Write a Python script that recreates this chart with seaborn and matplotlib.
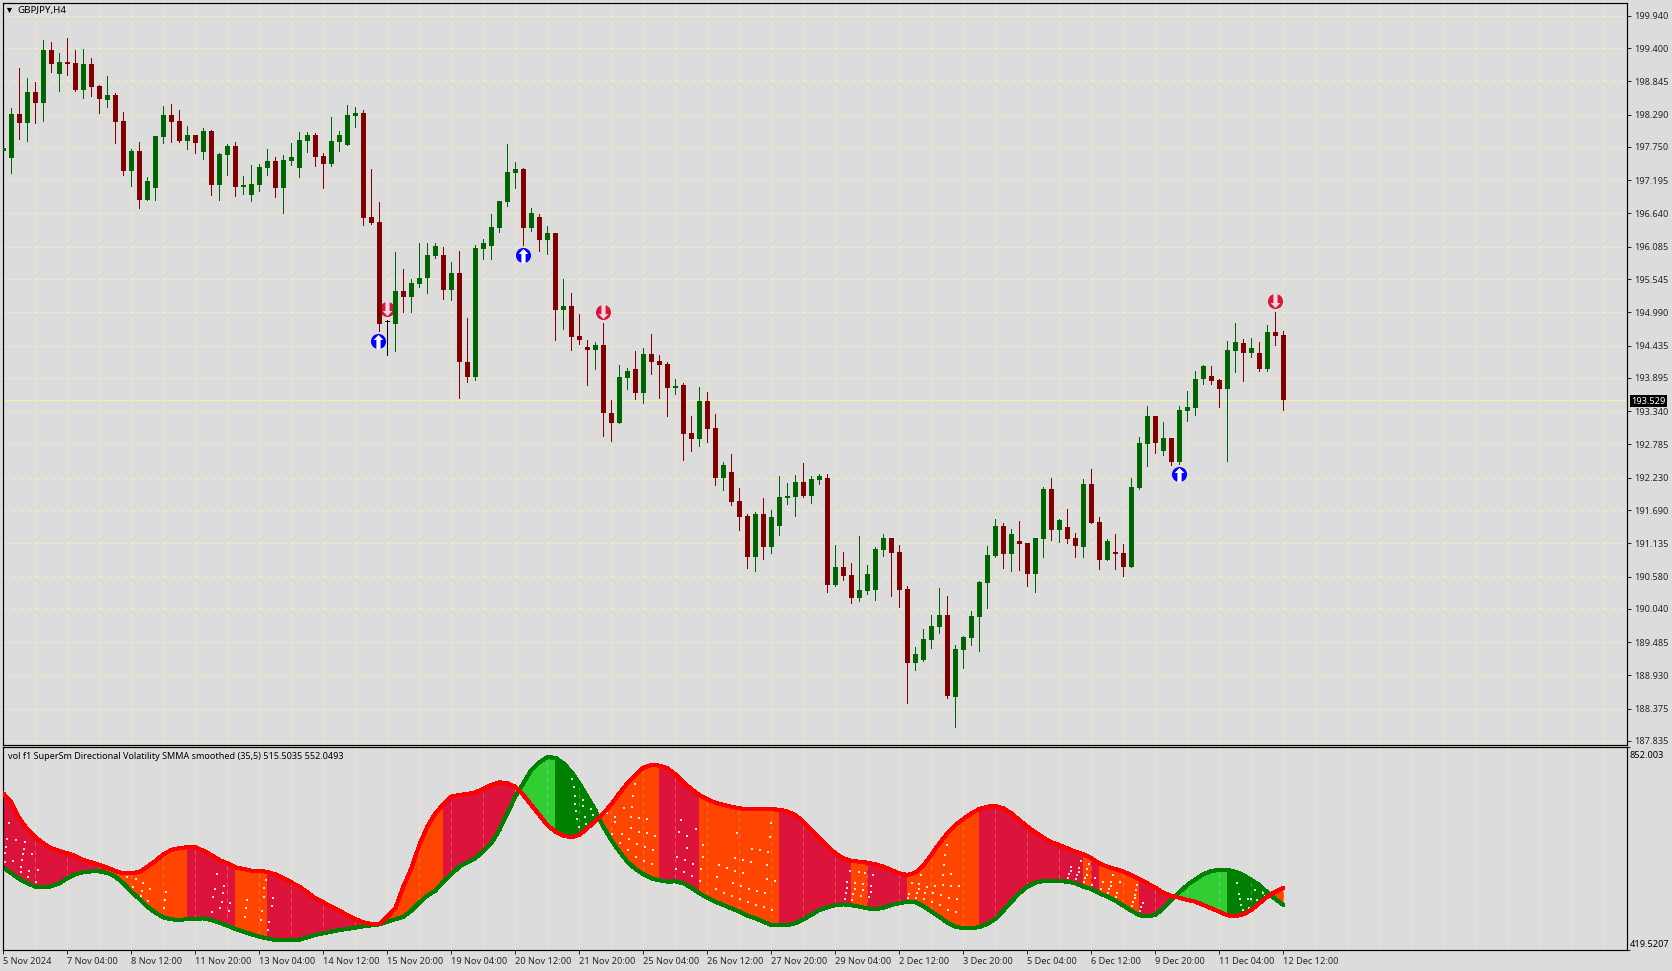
import numpy as np
import pandas as pd
import matplotlib as mpl
mpl.use("Agg")
import matplotlib.pyplot as plt
from matplotlib.patches import Rectangle
import seaborn as sns

# GBPJPY H4 candles
opens = [197.687,197.565,198.299,198.149,198.667,198.483,199.368,198.967,199.167,199.151,
         198.700,199.134,198.767,198.533,198.617,198.183,197.348,197.682,196.864,197.064,
         197.916,198.283,198.183,197.849,197.949,197.665,198.016,197.115,197.615,197.765,
         197.081,196.948,197.115,197.398,197.515,197.064,197.515,197.398,197.849,197.949,
         197.599,197.465,197.832,197.782,198.266,198.316,196.580,196.497,194.828,194.795,
         195.345,195.245,195.462,195.562,195.930,195.946,195.362,195.646,194.160,193.910,
         196.046,196.096,196.397,196.831,197.315,197.381,196.397,196.580,196.197,196.313,
         195.028,195.095,194.594,194.411,194.361,194.444,193.309,193.142,193.893,194.044,
         193.643,194.294,194.177,194.127,193.727,193.776,192.975,192.875,193.509,193.058,
         192.224,192.324,191.840,191.590,190.906,191.623,191.072,191.423,191.890,191.907,
         192.157,191.924,192.191,192.224,190.438,190.739,190.605,190.221,190.338,190.355,
         191.022,191.223,190.989,190.372,189.137,189.187,189.520,189.737,189.938,188.569,
         189.354,189.554,189.904,190.472,190.922,191.423,190.956,191.173,191.139,190.622,
         191.206,192.040,191.356,191.407,191.223,191.073,192.124,191.490,190.856,190.990,
         190.973,190.739,192.058,192.792,193.259,192.675,192.892,192.492,193.343,193.393,
         193.877,193.927,193.860,193.710,194.344,194.478,194.311,194.311,194.044,194.661,
         194.611]
closes = [197.732,198.299,198.149,198.667,198.483,199.368,199.134,199.167,199.134,198.700,
          199.134,198.750,198.550,198.617,198.166,197.348,197.682,196.864,197.181,197.932,
          198.283,198.166,197.849,197.949,197.815,198.016,197.115,197.632,197.765,197.081,
          197.115,197.131,197.415,197.515,197.064,197.532,197.582,197.866,197.949,197.582,
          197.465,197.849,197.949,198.283,198.316,196.564,196.480,194.795,194.828,195.345,
          195.245,195.479,195.562,195.946,196.096,195.362,195.646,194.160,193.910,196.063,
          196.146,196.413,196.847,197.331,197.381,196.397,196.647,196.197,196.313,195.028,
          195.095,194.578,194.528,194.361,194.444,193.309,193.142,193.910,194.010,193.643,
          194.294,194.160,194.110,193.727,193.760,192.958,192.875,193.509,193.042,192.224,
          192.441,191.823,191.573,190.906,191.623,191.072,191.573,191.907,191.924,192.157,
          191.924,192.207,192.257,190.438,190.739,190.589,190.221,190.355,190.622,191.039,
          191.223,190.972,190.355,189.137,189.287,189.537,189.754,189.938,188.586,189.370,
          189.570,189.921,190.488,190.939,191.423,190.956,191.289,191.123,190.622,191.223,
          192.040,191.356,191.523,191.207,191.090,192.124,191.474,190.856,191.173,190.956,
          190.739,192.074,192.809,193.259,192.809,192.892,192.492,193.359,193.409,193.877,
          194.094,193.843,193.710,194.361,194.494,194.311,194.394,194.044,194.661,194.594,
          193.529]
highs = [197.765,198.400,199.067,198.900,198.833,199.534,199.501,199.317,199.568,199.368,
         199.384,199.234,198.783,198.934,198.650,198.333,197.715,197.832,197.248,197.932,
         198.433,198.466,198.366,198.099,197.949,198.066,198.032,197.649,197.799,197.832,
         197.265,197.448,197.465,197.715,197.582,197.615,197.815,197.999,197.999,197.982,
         197.649,198.249,198.016,198.450,198.416,198.366,197.382,196.831,194.861,195.996,
         195.713,195.546,196.146,196.146,196.146,196.080,195.829,196.013,194.895,196.113,
         196.213,196.630,196.847,197.799,197.498,197.398,196.731,196.630,196.430,196.313,
         195.546,195.312,194.962,194.528,194.494,194.811,193.526,194.110,194.060,194.344,
         194.394,194.628,194.277,194.160,193.877,193.809,193.259,193.743,193.659,193.292,
         192.491,192.625,192.057,191.623,191.657,191.890,191.690,192.257,192.141,192.274,
         192.474,192.257,192.291,192.291,191.106,190.989,190.805,191.256,190.772,191.072,
         191.289,191.223,191.106,190.422,189.404,189.704,189.938,190.388,190.255,189.437,
         189.587,190.004,190.505,191.089,191.540,191.473,191.373,191.506,191.139,191.223,
         192.074,192.224,191.540,191.707,191.307,192.208,192.375,191.574,191.207,191.290,
         191.123,192.225,192.909,193.426,193.259,193.159,192.892,193.426,193.677,194.010,
         194.110,194.094,193.877,194.511,194.811,194.544,194.561,194.494,194.778,194.995,
         194.678]
lows = [197.098,197.315,197.882,197.849,198.149,198.183,199.000,198.683,198.950,198.683,
        198.566,198.600,198.316,198.416,197.815,197.281,197.098,196.731,196.864,196.864,
        197.815,197.832,197.832,197.715,197.649,197.548,196.948,196.864,197.281,196.931,
        196.964,196.848,197.014,197.281,196.914,196.647,197.448,197.248,197.665,197.432,
        197.064,197.432,197.682,197.782,198.082,196.447,196.464,194.678,194.277,194.344,
        194.995,194.995,195.412,195.312,195.896,195.212,195.195,193.560,193.827,193.860,
        195.879,195.879,196.330,196.764,197.064,196.113,196.347,196.013,195.963,194.528,
        194.711,194.361,194.461,193.777,194.044,192.925,192.842,193.142,193.710,193.543,
        193.476,193.960,193.560,193.259,193.626,192.524,192.675,192.758,192.825,192.107,
        192.024,191.773,191.356,190.722,190.672,190.872,190.972,191.273,191.790,191.590,
        191.907,191.807,192.124,190.321,190.422,190.522,190.138,190.171,190.288,190.188,
        190.922,190.255,190.071,188.469,189.020,189.170,189.387,189.637,188.552,188.068,
        189.053,189.437,189.337,190.054,190.906,190.722,190.672,190.689,190.422,190.321,
        190.906,191.189,191.156,191.140,190.906,190.906,191.474,190.706,190.856,190.706,
        190.589,190.739,192.041,192.425,192.642,192.608,192.442,192.458,193.176,193.276,
        193.793,193.793,193.409,192.508,193.994,193.843,194.244,194.010,194.010,194.444,
        193.359]

# indicator lines, one reading per bar
vol_red = [753.3,734.1,700.1,677.3,659.6,646.8,636.1,630.5,625.5,619.8,
           611.3,606.3,600.6,594.9,587.8,582.9,582.9,585.7,597.1,609.2,
           623.4,632.6,636.8,638.3,638.3,631.2,621.9,611.3,604.2,595.7,
           592.1,588.6,588.6,585.7,580.7,572.2,563.7,554.5,542.4,529.6,
           521.1,511.9,503.3,494.1,485.6,478.5,474.9,474.2,490.5,508.3,
           554.5,593.5,643.2,682.3,710.7,729.9,746.2,749.8,751.9,755.5,
           762.6,771.1,776.8,774.6,767.5,749.8,728.5,707.2,685.9,671.6,
           663.1,659.6,664.5,678.7,694.4,710.7,729.9,753.3,774.6,792.4,
           808.0,813.7,812.3,806.6,793.8,776.8,762.6,749.8,740.5,733.4,
           728.5,724.9,721.4,719.2,719.2,719.2,719.2,718.5,714.3,707.2,
           693.0,675.2,657.4,641.1,625.5,614.8,609.2,607.7,605.6,602.0,
           597.1,590.0,582.9,579.3,584.3,599.2,621.9,646.8,668.1,685.9,
           698.6,710.7,719.9,724.9,726.3,721.4,710.7,696.5,682.3,670.2,
           658.9,648.9,643.2,636.1,629.0,623.4,614.8,604.2,597.1,592.1,
           586.4,579.3,570.8,561.6,552.3,541.7,534.6,531.0,526.1,522.5,
           515.4,508.3,501.2,493.4,491.3,495.5,504.8,519.0,533.2,543.8,
           552.0493]
vol_green = [594.9,582.9,570.8,561.6,554.5,553.0,555.2,561.6,572.2,580.7,
             585.0,587.1,587.1,583.6,575.8,561.6,543.8,528.2,511.9,499.1,
             489.1,484.9,483.4,485.6,485.6,487.0,483.4,477.8,471.4,464.3,
             458.6,452.9,447.9,444.4,440.8,440.1,440.1,441.5,446.5,451.5,
             455.0,458.6,462.1,464.3,467.1,470.0,472.1,474.2,479.9,484.9,
             490.5,503.3,520.4,535.3,545.9,565.1,580.7,597.1,606.3,614.8,
             630.5,646.8,675.2,710.7,746.2,774.6,803.0,819.4,830.0,829.3,
             817.2,799.5,774.6,746.2,717.8,682.3,653.9,629.0,607.7,592.1,
             580.7,572.2,568.0,565.1,565.8,561.6,552.3,540.3,531.0,522.5,
             515.4,508.3,501.2,492.7,487.0,479.9,472.8,472.1,472.1,476.3,
             484.9,494.1,504.8,510.4,514.7,516.8,514.7,511.9,508.3,506.2,
             509.7,515.4,519.0,522.5,521.1,513.3,501.2,490.5,477.8,469.2,
             465.7,465.7,468.5,474.9,485.6,503.3,522.5,540.3,554.5,563.0,
             566.5,566.5,566.5,565.1,561.6,554.5,549.5,540.3,533.2,524.6,
             514.0,503.3,493.4,491.3,494.1,508.3,526.1,542.4,558.0,570.1,
             580.7,587.8,590.0,590.0,586.4,579.3,568.7,558.0,542.4,528.2,
             515.5035]

# white dots scattered inside the band
dot_bars = [.75,.42,1.58,2.71,.33,2.58,.25,2.5,3.63,1.25,2.29,.17,2.21,3.25,4.38,2.17,3.13,4.08,
            15.42,16.58,14.67,17.5,16.25,17.33,18.33,17.17,20.33,18.13,20.25,20.08,
            26.75,27.58,26.46,27.5,26.25,27.29,28.33,26.08,27.08,28.25,
            30.5,30.33,30.21,32.58,32.83,32.58,32.33,32.17,33.75,33.58,33.25,33.13,
            71.1,71.3,71.4,71.5,72.4,72.5,71.6,73.5,71.7,72.7,71.9,72.8,73.75,
            78.9,78.75,78.6,77.6,78.5,76.5,75.5,79.5,80.5,76.4,78.4,79.4,80.4,77.3,81.4,76.1,78.25,77.1,79.25,
            80.25,78.1,81.25,79.1,80.1,81.1,
            84.7,84.5,85.5,86.6,85.4,84.25,85.25,86.25,84.1,85.1,86.1,
            87.5,87.4,87.25,87.1,89.4,90.4,89.25,91.4,92.4,91.5,92.5,93.5,93.6,94.6,95.6,95.5,91.75,95.8,95.9,
            91.25,92.25,95.4,96.4,89.1,90.1,91.1,92.1,93.1,94.1,95.1,96.1,93.25,94.25,95.25,
            105.8,105.5,105.4,105.3,105.2,106.9,106.5,106.4,106.25,106.1,
            107.75,107.5,107.4,107.25,108.75,108.5,108.4,108.25,
            117.9,117.75,117.6,117.5,118.5,117.4,118.4,119.4,114.75,113.6,114.5,115.4,116.4,
            114.4,114.25,113.25,115.25,116.25,117.25,113.1,114.1,115.1,116.1,118.25,119.25,117.1,118.1,119.1,
            133.5,133.4,133.25,133.1,134.5,134.4,134.25,134.1,134.75,135.75,135.5,135.4,135.25,135.1,136.4,136.1,
            137.4,137.25,138.75,138.5,138.4,138.25,138.1,139.6,139.25,139.1,
            141.9,141.75,141.6,141.5,141.4,141.25,141.1,142.4,142.25,142.1,
            154.25,154.5,154.6,154.75,154.9,155.6,155.75,156.4,156,156.75,157,157.4,157.75,157.5]
dot_values = [689.4,656.0,653.9,650.3,639.7,634.7,625.5,623.3,623.3,609.8,611.3,607.7,597.1,587.8,589.2,585.0,574.3,565.1,
              575.8,570.1,582.9,561.6,554.5,545.2,548.8,535.3,543.8,524.6,526.0,508.3,
              580.7,556.6,548.8,541.7,531.7,522.5,518.9,499.7,509.7,503.3,
              526.0,508.3,490.5,533.1,568.6,552.3,503.3,484.1,531.0,512.5,479.9,462.1,
              783.1,766.1,748.3,731.3,738.4,725.6,715.0,719.2,697.9,702.2,681.6,688.6,707.1,
              772.5,748.3,724.9,721.4,702.2,703.6,710.7,700.0,697.9,691.5,678.7,671.6,668.1,665.9,661.7,665.9,655.3,646.8,644.6,
              638.2,631.8,631.8,616.9,608.4,602.0,
              695.8,670.2,661.7,676.6,636.1,616.9,610.5,602.0,591.4,585.0,576.5,
              642.5,616.9,591.4,565.8,599.9,593.5,574.3,587.1,582.8,614.8,610.5,606.3,634.0,631.8,629.0,599.9,668.1,659.5,689.4,
              561.5,555.1,570.1,565.8,548.7,540.2,533.8,527.4,521.0,514.7,510.4,504.0,548.7,544.5,540.2,
              587.1,563.7,550.9,540.2,527.4,585.0,561.5,548.7,538.1,525.3,
              582.8,559.4,546.6,535.6,578.6,555.1,542.4,531.7,
              642.5,621.2,599.9,578.6,580.7,557.3,555.1,555.1,578.6,561.5,559.4,553.0,555.1,
              548.7,540.2,538.1,540.2,540.2,536.0,529.6,529.6,527.4,521.0,529.6,527.4,514.7,504.0,499.8,
              597.1,587.8,580.7,572.2,594.9,585.7,578.6,570.1,608.4,602.0,591.4,578.6,572.2,563.7,572.2,557.3,
              563.7,548.7,578.6,563.7,555.1,548.7,540.2,563.7,540.2,531.7,
              570.1,557.3,546.6,536.0,529.6,521.1,512.5,518.9,510.4,501.9,
              561.5,538.1,527.4,514.7,504.0,527.4,508.3,546.6,527.4,525.3,518.9,544.5,533.8,540.2]

# colour bands of the indicator: start/end bar and state
band_starts = [0,13,23,29,33,47.1,55,64,69,74.2,82,87,97,106,108,113,122,135,136,137,142,146.5,153,157.8,158.6]
band_ends = [13,23,29,33,47.1,55,64,69,74.2,82,87,97,106,108,113,122,135,136,137,142,146.5,153,157.8,158.6,160]
band_states = ["down","rise","down","rise","down","rise","down","up","upfade","rise","down","rise","down",
               "rise","down","rise","down","rise","down","rise","down","up","upfade","down","rise"]

# signal arrows (bar, price)
up_bars = [46.8, 64.9, 146.9]
up_prices = [194.51, 195.94, 192.286]
down_bars = [47.96, 74.9, 158.9]
down_prices = [195.045, 195.0, 195.18]

price_ticks = [199.940,199.400,198.845,198.290,197.750,197.195,196.640,196.085,195.545,194.990,194.435,193.895,
               193.340,192.785,192.230,191.690,191.135,190.580,190.040,189.485,188.930,188.375,187.835]
time_labels = ["5 Nov 2024","7 Nov 04:00","8 Nov 12:00","11 Nov 20:00","13 Nov 04:00","14 Nov 12:00","15 Nov 20:00",
               "19 Nov 04:00","20 Nov 12:00","21 Nov 20:00","25 Nov 04:00","26 Nov 12:00","27 Nov 20:00","29 Nov 04:00",
               "2 Dec 12:00","3 Dec 20:00","5 Dec 04:00","6 Dec 12:00","9 Dec 20:00","11 Dec 04:00","12 Dec 12:00"]
last_price = 193.529
vol_min, vol_max = 419.5207, 852.003

BG = "#DCDCDC"
GRID = "#F3EEB4"
BULL = "#006400"
BEAR = "#800000"
BAND_COLORS = {"down": "#DC143C", "rise": "#FF4500", "up": "#32CD32", "upfade": "#008000"}
W, H = 1672, 971
PX = 0.72  # one pixel in points at dpi 100

sns.set_theme(style="ticks", rc={"axes.facecolor": BG, "figure.facecolor": BG, "savefig.facecolor": BG,
                                 "axes.edgecolor": "black", "axes.linewidth": 0.85, "text.color": "black"})
plt.rcParams["font.family"] = ["Noto Sans", "DejaVu Sans"]
plt.rcParams["font.size"] = 6.6


def pane(left, top, right, bottom):
    return fig.add_axes([left / W, 1 - bottom / H, (right - left) / W, (bottom - top) / H])


def pixel_xlim(ax):
    # bar 0 sits at pixel 3.33, one bar is 8 px
    ax.set_xlim((2.5 - 3.33) / 8, (1626.5 - 3.33) / 8)


def add_vgrid(ax):
    for b in range(4, 201, 4):
        ax.axvline(b, color=GRID, lw=PX, ls=(0, (4, 4)), zorder=0.5)


fig = plt.figure(figsize=(W / 100, H / 100), dpi=100)
ax = pane(2.5, 2.5, 1626.5, 745)
ax2 = pane(2.5, 747, 1626.5, 950)

# --- price pane ---
df = pd.DataFrame({"open": opens, "high": highs, "low": lows, "close": closes})
df["bar"] = df.index
df["color"] = np.where(df["close"] > df["open"], BULL, BEAR)
df.loc[df["close"] == df["open"], "color"] = "black"

pixel_xlim(ax)
ax.set_ylim(187.768, 200.160)
add_vgrid(ax)
for p in price_ticks:
    ax.axhline(p, color=GRID, lw=PX, ls=(0, (4, 4)), zorder=0.5)
ax.axhline(last_price, color=GRID, lw=1.0, zorder=0.6)

ax.scatter(up_bars, up_prices, s=118, color="#0000FF", linewidths=0, zorder=1)
ax.scatter(down_bars, down_prices, s=118, color="#DC143C", linewidths=0, zorder=1)
up_arrow = [(-0.27, -1), (0.27, -1), (0.27, 0.2), (0.62, 0.2), (0, 0.85), (-0.62, 0.2), (-0.27, 0.2)]
down_arrow = [(x, -y) for x, y in up_arrow]
ax.scatter(up_bars, up_prices, s=125, color="white", marker=up_arrow, linewidths=0, zorder=1.1)
ax.scatter(down_bars, down_prices, s=125, color="#F4D6DC", marker=down_arrow, linewidths=0, zorder=1.1)

ax.vlines(df["bar"], df["low"], df["high"], colors=df["color"], lw=PX, zorder=2, antialiased=False)
body_low = df[["open", "close"]].min(axis=1)
body_h = (df["close"] - df["open"]).abs().clip(lower=0.012)
ax.bar(df["bar"], body_h, bottom=body_low, width=5 / 8, color=df["color"], linewidth=0, zorder=3, antialiased=False)

ax.set_yticks(price_ticks)
ax.set_yticklabels([f"{p:.3f}" for p in price_ticks])
ax.yaxis.tick_right()
ax.tick_params(axis="y", length=3, width=PX, pad=2.2, labelsize=6.6)
ax.set_xticks([])

ax.annotate("GBPJPY,H4", xy=(0, 1), xycoords="axes fraction", xytext=(15 * PX, -7.5 * PX),
            textcoords="offset points", va="center", fontsize=7)
ax.scatter([0.004], [0.99], marker="v", s=14, color="black", linewidths=0, transform=ax.transAxes, zorder=5)
ax.annotate(f"{last_price:.3f}", xy=(1, last_price), xycoords=("axes fraction", "data"),
            xytext=(5 * PX, -1.5 * PX), textcoords="offset points", va="center", ha="left", color="white", fontsize=6.6,
            annotation_clip=False,
            bbox=dict(boxstyle="square,pad=0.18", facecolor="black", edgecolor="black", linewidth=0))

# --- indicator pane ---
vol = pd.DataFrame({"bar": np.arange(len(vol_red)), "red": vol_red, "green": vol_green})

pixel_xlim(ax2)
ax2.set_ylim(vol_min, vol_max)
add_vgrid(ax2)

for start, end, state in zip(band_starts, band_ends, band_states):
    poly = ax2.fill_between(vol["bar"], vol["red"], vol["green"], color=BAND_COLORS[state], linewidth=0, zorder=1)
    poly.set_clip_path(Rectangle((start, vol_min), end - start, vol_max - vol_min, transform=ax2.transData))

# the grid shows faintly through the filled area
for b in range(4, 161, 4):
    ax2.axvline(b, color=GRID, lw=PX, ls=(0, (4, 4)), alpha=0.3, zorder=1.5)

ax2.scatter(dot_bars, dot_values, s=0.55, marker="s", color="white", alpha=0.85, linewidths=0, zorder=1.6)

sns.lineplot(data=vol, x="bar", y="green", color="#008000", lw=2.2, ax=ax2, zorder=2, errorbar=None, antialiased=False)
sns.lineplot(data=vol, x="bar", y="red", color="#FF0000", lw=2.2, ax=ax2, zorder=3, errorbar=None, antialiased=False)
ax2.set_xlabel("")
ax2.set_ylabel("")

ax2.set_xticks(np.arange(0, 161, 8))
ax2.set_xticklabels(time_labels, ha="left")
ax2.tick_params(axis="x", length=3, width=PX, pad=1.8, labelsize=6.6)
ax2.set_yticks([vol_min, vol_max])
ax2.set_yticklabels(["", ""])
ax2.yaxis.tick_right()
ax2.tick_params(axis="y", length=2, width=PX)

ax2.annotate("852.003", xy=(1, 1), xycoords="axes fraction", xytext=(3 * PX, -8 * PX),
             textcoords="offset points", va="center", fontsize=6.6, annotation_clip=False)
ax2.annotate("419.5207", xy=(1, 0), xycoords="axes fraction", xytext=(3 * PX, 6 * PX),
             textcoords="offset points", va="center", fontsize=6.6, annotation_clip=False)
ax2.annotate("vol f1 SuperSm Directional Volatility SMMA smoothed (35,5) 515.5035 552.0493", xy=(0, 1),
             xycoords="axes fraction", xytext=(5.5 * PX, -9 * PX), textcoords="offset points", va="center", fontsize=6.5)

for a in (ax, ax2):
    for s in a.spines.values():
        s.set_visible(True)

fig.savefig("out.png", dpi=100)
